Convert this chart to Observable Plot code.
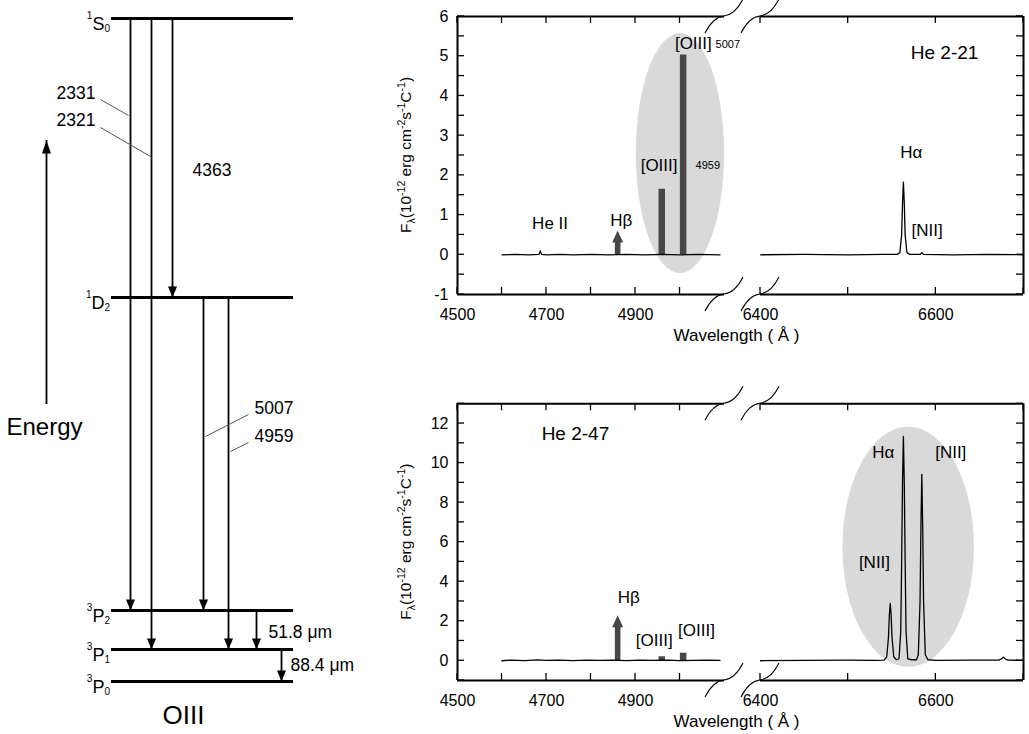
<!DOCTYPE html>
<html><head><meta charset="utf-8">
<script src="https://cdn.jsdelivr.net/npm/d3@7"></script>
<script src="https://cdn.jsdelivr.net/npm/@observablehq/plot@0.6"></script>
<style>
html,body{margin:0;padding:0;background:#fff;}
#root{position:relative;width:1029px;height:734px;overflow:hidden;}
#root > div{position:absolute;}
</style></head><body><div id="root"></div>
<script>
// ================= DATA =================
// --- OIII energy-level diagram (schematic heights, not to scale) ---
const levelMult   = ["1", "1", "3", "3", "3"];
const levelLetter = ["S", "D", "P", "P", "P"];
const levelJ      = ["0", "2", "2", "1", "0"];
const levelHeight = [663, 384, 71, 32, 0];
const transitionLabels = ["2331", "2321", "4363", "5007", "4959", "51.8 μm", "88.4 μm"];
const transitionUpper  = [0, 0, 0, 1, 1, 2, 3];   // index into levels
const transitionLower  = [2, 3, 1, 2, 3, 3, 4];
const transitionColumn = [130, 151, 172, 203, 228, 256, 281];

// --- He 2-21 spectrum (wavelength Å, flux 1e-12 erg cm-2 s-1 C-1) ---
const he221Blue = [[4600,0],[4630,0.01],[4660,0],[4683,0.01],[4685,0.06],[4686,0.1],[4687,0.06],[4689,0.01],[4700,0],[4730,0.01],[4760,0],[4800,0.01],[4840,0],[4880,0.01],[4920,0],[4960,0.01],[5000,0],[5040,0.01],[5090,0]];
const he221Red  = [[6400,0],[6450,0.01],[6500,0],[6540,0.01],[6556,0.01],[6559,0.06],[6561,0.5],[6562,1.3],[6563,1.83],[6564,1.3],[6565,0.5],[6567,0.06],[6570,0.01],[6582,0.01],[6584,0.05],[6586,0.01],[6620,0],[6660,0.01],[6700,0]];
const he221Bars   = [{w: 4959, f: 1.65}, {w: 5007, f: 5.03}];
const he221Arrows = [{w: 4861, f: 0.6}];

// --- He 2-47 spectrum ---
const he247Blue = [[4600,0],[4620,0.03],[4650,0.01],[4680,0.04],[4700,0.02],[4730,0.03],[4760,0.01],[4790,0.03],[4820,0.02],[4850,0.03],[4880,0.01],[4910,0.03],[4940,0.02],[4970,0.03],[5000,0.01],[5030,0.02],[5060,0.03],[5090,0.02]];
const he247Red  = [[6400,0],[6450,0.02],[6500,0.03],[6530,0.02],[6541,0.03],[6544,0.2],[6546,1.2],[6547,2.3],[6548,2.9],[6549,2.3],[6550,1.2],[6552,0.2],[6555,0.05],[6558,0.1],[6560,1.5],[6561,5],[6562,9],[6563,11.35],[6564,9],[6565,5],[6566,1.5],[6568,0.1],[6572,0.05],[6578,0.05],[6580,0.3],[6582,3],[6583,6.8],[6584,9.43],[6585,6.8],[6586,3],[6588,0.3],[6591,0.05],[6600,0.02],[6640,0.03],[6672,0.03],[6675,0.1],[6677,0.18],[6679,0.1],[6682,0.03],[6700,0.02]];
const he247Bars   = [{w: 4959, f: 0.2}, {w: 5007, f: 0.38}];
const he247Arrows = [{w: 4861, f: 2.28}];

// --- axes ---
const xBreakDomain = [4500, 5100, 6400, 6700];
const xTickLabels  = [4500, 4700, 4900, 6400, 6600];
const xMinorTicks  = [4500, 4600, 4700, 4800, 4900, 5000, 6400, 6500, 6600, 6700];
const top_yTicks   = [-1, 0, 1, 2, 3, 4, 5, 6];
const top_yMinor   = [-1, -0.5, 0, 0.5, 1, 1.5, 2, 2.5, 3, 3.5, 4, 4.5, 5, 5.5, 6];
const bot_yTicks   = [0, 2, 4, 6, 8, 10, 12];
const bot_yMinor   = [-1, 0, 1, 2, 3, 4, 5, 6, 7, 8, 9, 10, 11, 12, 13];

// ================= HELPERS =================
const FONT = '"Liberation Sans", Arial, Helvetica, sans-serif';
const NS = "http://www.w3.org/2000/svg";
function el(tag, attrs = {}) {
  const e = document.createElementNS(NS, tag);
  for (const k in attrs) e.setAttribute(k, attrs[k]);
  return e;
}
const headDown = {draw(c) { c.moveTo(0, 0); c.lineTo(-4.5, -11); c.lineTo(4.5, -11); c.closePath(); }};
const headUp   = {draw(c) { c.moveTo(0, 0); c.lineTo(-4.5, 13); c.lineTo(4.5, 13); c.closePath(); }};

function ellipseMark(e) {
  return (index, scales) => {
    const cx = scales.x(e.cx), cy = scales.y(e.cy);
    const rx = Math.abs(scales.x(e.cx + e.rx) - cx), ry = Math.abs(scales.y(e.cy + e.ry) - cy);
    return el("ellipse", {cx, cy, rx, ry, fill: "#d9d9d9"});
  };
}
function upArrowMark(data) {
  return (index, scales) => {
    const g = el("g");
    for (const d of data) {
      const x = scales.x(d.w), y0 = scales.y(0), yt = scales.y(d.f);
      const s = 2.8, hw = 5.5, hh = 12;
      g.appendChild(el("path", {
        d: `M${x - s},${y0}V${yt + hh}H${x - hw}L${x},${yt}L${x + hw},${yt + hh}H${x + s}V${y0}Z`,
        fill: "#474747"
      }));
    }
    return g;
  };
}
// inward frame ticks on all four sides
function innerTicksMark(yMinor, yDomain) {
  return (index, scales) => {
    const g = el("g", {stroke: "#000", "stroke-width": 1.3});
    const xl = scales.x(xBreakDomain[0]), xr = scales.x(xBreakDomain[3]);
    const yb = scales.y(yDomain[0]), yt = scales.y(yDomain[1]);
    const L = 7;
    for (const v of yMinor) {
      const y = scales.y(v);
      g.appendChild(el("line", {x1: xl, x2: xl + L, y1: y, y2: y}));
      g.appendChild(el("line", {x1: xr - L, x2: xr, y1: y, y2: y}));
    }
    for (const w of xMinorTicks) {
      const x = scales.x(w);
      g.appendChild(el("line", {x1: x, x2: x, y1: yb, y2: yb - L}));
      g.appendChild(el("line", {x1: x, x2: x, y1: yt, y2: yt + L}));
    }
    return g;
  };
}
function breakMark(yDomain) {
  return (index, scales) => {
    const g = el("g");
    for (const w of [xBreakDomain[1], xBreakDomain[2]]) for (const v of yDomain) {
      const x = scales.x(w), y = scales.y(v);
      g.appendChild(el("path", {
        d: `M${x - 19},${y + 17}C${x - 14},${y + 7} ${x - 8},${y + 1} ${x},${y}S${x + 14},${y - 7} ${x + 19},${y - 17}`,
        fill: "none", stroke: "#000", "stroke-width": 1.1
      }));
    }
    return g;
  };
}
function yLabelMark() {
  return (index, scales, values, dim) => {
    const cy = (dim.marginTop + dim.height - dim.marginBottom) / 2;
    const t = el("text", {transform: `translate(31,${cy}) rotate(-90)`, "text-anchor": "middle",
      "font-family": FONT, "font-size": 15.5, fill: "#000"});
    const parts = [["F", 15.5, 0], ["λ", 10.5, 4], ["(10", 15.5, -4], ["-12", 10.5, -6], [" erg cm", 15.5, 6],
      ["-2", 10.5, -6], ["s", 15.5, 6], ["-1", 10.5, -6], ["C", 15.5, 6], ["-1", 10.5, -6], [")", 15.5, 6]];
    for (const [s, fs, dy] of parts) {
      const sp = el("tspan", {"font-size": fs, dy});
      sp.textContent = s;
      t.appendChild(sp);
    }
    return t;
  };
}
function levelLabelMark(levels) {
  return (index, scales) => {
    const g = el("g");
    for (const d of levels) {
      const t = el("text", {x: scales.x(110), y: scales.y(d.E) + 12, "text-anchor": "end",
        "font-family": FONT, fill: "#000"});
      const a = el("tspan", {"font-size": 10, dy: -11}); a.textContent = d.mult;
      const b = el("tspan", {"font-size": 18, dy: 11}); b.textContent = d.L;
      const c = el("tspan", {"font-size": 10, dy: 2}); c.textContent = d.J;
      t.append(a, b, c);
      g.appendChild(t);
    }
    return g;
  };
}
function place(node, left, topPx) {
  const d = document.createElement("div");
  d.style.left = left + "px"; d.style.top = topPx + "px";
  d.appendChild(node);
  document.getElementById("root").appendChild(d);
}

// ================= ENERGY DIAGRAM =================
const levels = levelHeight.map((E, i) => ({mult: levelMult[i], L: levelLetter[i], J: levelJ[i], E}));
const transitions = transitionLabels.map((t, i) => ({
  label: t, x: transitionColumn[i], upper: levelHeight[transitionUpper[i]], lower: levelHeight[transitionLower[i]]
}));
const labelSpots = [
  {x: 95, y: 588, anchor: "end"}, {x: 95, y: 561, anchor: "end"}, {x: 192, y: 511, anchor: "start"},
  {x: 254, y: 273, anchor: "start"}, {x: 254, y: 245, anchor: "start"},
  {x: 268, y: 49, anchor: "start"}, {x: 290, y: 16, anchor: "start"}
];
const annots = transitions.map((t, i) => ({t: t.label, ...labelSpots[i]}));
const leaders = [
  {x1: 100, y1: 582, x2: 128, y2: 566}, {x1: 100, y1: 554, x2: 150, y2: 525},
  {x1: 248, y1: 267, x2: 205, y2: 245}, {x1: 248, y1: 239, x2: 230, y2: 230}
];
const energyArrow = {x: 46, from: 277, to: 541};

const diagramPlot = Plot.plot({
  width: 380, height: 734, marginLeft: 0, marginRight: 0, marginTop: 18, marginBottom: 53,
  x: {domain: [0, 380], axis: null},
  y: {domain: [0, 663], axis: null},
  style: {background: "transparent", fontFamily: FONT, color: "#000", overflow: "visible"},
  marks: [
    Plot.ruleY(levels, {y: "E", x1: 111, x2: 293, strokeWidth: 2.8}),
    Plot.ruleX(transitions, {x: "x", y1: "upper", y2: "lower", strokeWidth: 1.8}),
    Plot.dot(transitions, {x: "x", y: "lower", symbol: headDown, fill: "#000", stroke: "none"}),
    Plot.ruleX([energyArrow], {x: "x", y1: "from", y2: "to", strokeWidth: 1.8}),
    Plot.dot([energyArrow], {x: "x", y: "to", symbol: headUp, fill: "#000", stroke: "none"}),
    Plot.link(leaders, {x1: "x1", y1: "y1", x2: "x2", y2: "y2", stroke: "#555", strokeWidth: 1}),
    Plot.text(annots.filter(d => d.anchor === "end"), {x: "x", y: "y", text: "t", textAnchor: "end", fontSize: 17.5}),
    Plot.text(annots.filter(d => d.anchor === "start"), {x: "x", y: "y", text: "t", textAnchor: "start", fontSize: 17.5}),
    Plot.text(["Energy"], {x: 44, y: 254, text: d => d, fontSize: 24}),
    Plot.text(["OIII"], {x: 183, y: -34, text: d => d, fontSize: 26}),
    levelLabelMark(levels)
  ]
});
place(diagramPlot, 0, 0);

// ================= SPECTRA =================
function spectrum(o) {
  const [y0, y1] = o.yDomain;
  return Plot.plot({
    width: 649, height: o.height, marginLeft: 77, marginRight: 6, marginTop: o.marginTop, marginBottom: o.marginBottom,
    style: {background: "transparent", fontFamily: FONT, fontSize: "16px", color: "#000", overflow: "visible"},
    x: {type: "linear", domain: xBreakDomain, range: [77, 344, 380, 643]},
    y: {type: "linear", domain: o.yDomain},
    marks: [
      ellipseMark(o.ellipse),
      Plot.ruleX(o.bars, {x: "w", y1: 0, y2: "f", stroke: "#474747", strokeWidth: 6.5}),
      upArrowMark(o.arrows),
      Plot.line(o.blue, {x: d => d[0], y: d => d[1], stroke: "#000", strokeWidth: 1.3}),
      Plot.line(o.red, {x: d => d[0], y: d => d[1], stroke: "#000", strokeWidth: 1.3}),
      innerTicksMark(o.yMinor, o.yDomain),
      // tick labels
      Plot.axisY({anchor: "left", ticks: o.yTicks, tickSize: 0, tickPadding: 9, tickFormat: d => String(d), label: null}),
      Plot.axisX({anchor: "bottom", ticks: xTickLabels, tickSize: 0, tickPadding: 14, tickFormat: d => String(d), label: null}),
      // frame with broken x axis
      Plot.ruleX([xBreakDomain[0], xBreakDomain[3]], {x: d => d, y1: y0, y2: y1, strokeWidth: 2}),
      Plot.ruleY([y0, y1], {y: d => d, x1: xBreakDomain[0], x2: xBreakDomain[1], strokeWidth: 2}),
      Plot.ruleY([y0, y1], {y: d => d, x1: xBreakDomain[2], x2: xBreakDomain[3], strokeWidth: 2}),
      breakMark(o.yDomain),
      // labels
      Plot.text([o.name], {x: "w", y: "f", text: "t", fontSize: 19}),
      Plot.text(o.labels, {x: "w", y: "f", text: "t", fontSize: 17}),
      Plot.text(o.small, {x: "w", y: "f", text: "t", fontSize: 11, textAnchor: "start"}),
      Plot.text(["Wavelength ( Å )"], {frameAnchor: "bottom", dy: 46, dx: -4, text: d => d, fontSize: 17}),
      yLabelMark()
    ]
  });
}

const topPanel = spectrum({
  height: 345, marginTop: 16, marginBottom: 51, yDomain: [-1, 6], yTicks: top_yTicks, yMinor: top_yMinor,
  blue: he221Blue, red: he221Red, bars: he221Bars, arrows: he221Arrows,
  ellipse: {cx: 5001, cy: 2.55, rx: 101, ry: 3.02},
  name: {t: "He 2-21", w: 6610, f: 5.09},
  labels: [
    {t: "He II", w: 4708, f: 0.79}, {t: "Hβ", w: 4868, f: 0.86},
    {t: "[OIII]", w: 5030, f: 5.32}, {t: "[OIII]", w: 4953, f: 2.25},
    {t: "Hα", w: 6572, f: 2.58}, {t: "[NII]", w: 6590, f: 0.61}
  ],
  small: [{t: "5007", w: 5080, f: 5.30}, {t: "4959", w: 5035, f: 2.25}]
});
place(topPanel, 380, 0);

const bottomPanel = spectrum({
  height: 349, marginTop: 18.3, marginBottom: 54, yDomain: [-1, 13], yTicks: bot_yTicks, yMinor: bot_yMinor,
  blue: he247Blue, red: he247Red, bars: he247Bars, arrows: he247Arrows,
  ellipse: {cx: 6569, cy: 5.74, rx: 75, ry: 6.07},
  name: {t: "He 2-47", w: 4765, f: 11.5},
  labels: [
    {t: "Hβ", w: 4885, f: 3.2}, {t: "[OIII]", w: 4942, f: 1.02}, {t: "[OIII]", w: 5037, f: 1.53},
    {t: "Hα", w: 6540, f: 10.54}, {t: "[NII]", w: 6617, f: 10.54}, {t: "[NII]", w: 6530, f: 4.97}
  ],
  small: []
});
place(bottomPanel, 380, 385);
</script>
</body></html>
